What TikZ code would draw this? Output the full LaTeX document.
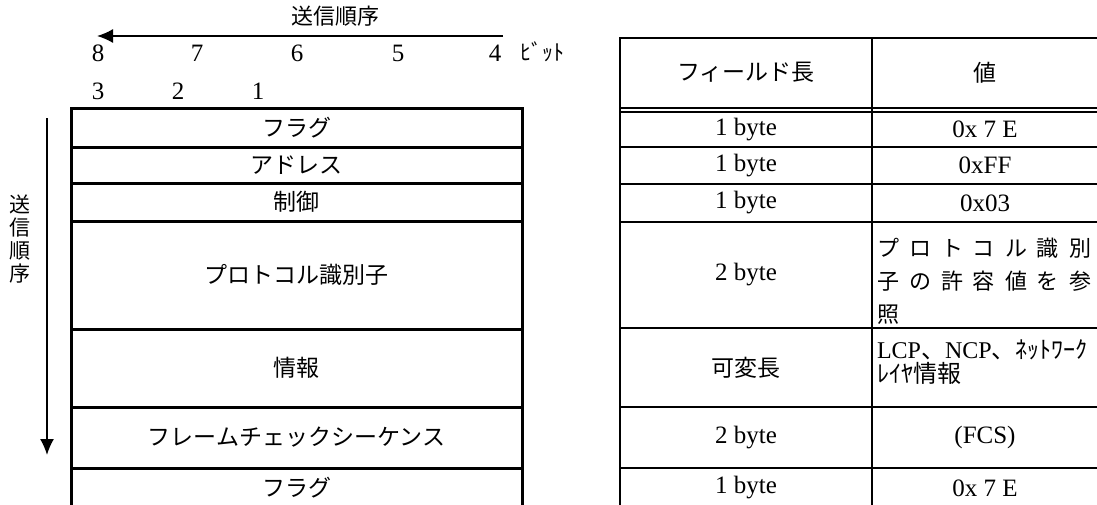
\documentclass[tikz,border=0pt]{standalone}
\usepackage{fontspec}
\setmainfont{Liberation Serif}
\newfontfamily\jp{Noto Sans CJK JP}
\usetikzlibrary{arrows.meta,positioning}

\newcommand\jpbig{\jp\fontsize{23}{27}\selectfont}
\newcommand\jpmid{\jp\fontsize{22}{33}\selectfont}
\newcommand\numsz{\rmfamily\fontsize{25}{29}\selectfont}
\newcommand\bitsz{\rmfamily\fontsize{25}{29}\selectfont}

\begin{document}
\begin{tikzpicture}[x=1pt,y=-1pt,inner sep=0pt,outer sep=0pt,
  field/.style={draw,line width=3pt,minimum width=451pt,font=\jpbig},
  cell/.style={draw,line width=2pt,font=\numsz},
  lencol/.style={cell,minimum width=252pt},
  valcol/.style={cell,minimum width=226pt},
  digit/.style={font=\bitsz},
  order/.style={line width=1.6pt,-{Latex[length=16pt,width=14pt]}}]
\useasboundingbox (0,0) rectangle (1097,504);
\clip (0,0) rectangle (1097,504);

%Frame Fields
\node at (296.5,127.5) [field,minimum height=39pt] (flag1) {フラグ};
\node at (296.5,165) [field,minimum height=36pt] (addr) {アドレス};
\node at (296.5,202) [field,minimum height=38pt] (ctrl) {制御};
\node at (296.5,275) [field,minimum height=108pt] (proto) {プロトコル識別子};
\node at (296.5,368) [field,minimum height=78pt] (info) {情報};
\node at (296.5,437.5) [field,minimum height=61pt] (fcs) {フレームチェックシーケンス};
\node at (296.5,488) [field,minimum height=40pt] (flag2) {フラグ};

%Table Cells
\node at (746,72.75) [lencol,minimum height=69.5pt,font=\jpbig] (hdlen) {フィールド長};
\node at (985,72.75) [valcol,minimum height=69.5pt,font=\jpbig] (hdval) {値};
\node at (746,129.25) [lencol,minimum height=35.5pt] (len1) {1 byte};
\node at (985,129.25) [valcol,minimum height=35.5pt] (val1) {0x 7 E};
\node at (746,165.5) [lencol,minimum height=37pt] (len2) {1 byte};
\node at (985,165.5) [valcol,minimum height=37pt] (val2) {0xFF};
\node at (746,203) [lencol,minimum height=38pt] (len3) {1 byte};
\node at (985,203) [valcol,minimum height=38pt] (val3) {0x03};
\node at (746,275) [lencol,minimum height=106pt] (len4) {2 byte};
\node at (985,275) [valcol,minimum height=106pt] (val4) {};
\node at (746,367.5) [lencol,minimum height=79pt,font=\jpbig] (len5) {可変長};
\node at (985,367.5) [valcol,minimum height=79pt] (val5) {};
\node at (746,437.5) [lencol,minimum height=61pt] (len6) {2 byte};
\node at (985,437.5) [valcol,minimum height=61pt] (val6) {(FCS)};
\node at (746,488) [lencol,minimum height=40pt] (len7) {1 byte};
\node at (985,488) [valcol,minimum height=40pt] (val7) {0x 7 E};

%Cell Texts
\node at (877,281) [anchor=west,align=left,font=\jpmid] (protoval) {%
\makebox[214pt][s]{プ\hfill ロ\hfill ト\hfill コ\hfill ル\hfill 識\hfill 別}\\
\makebox[214pt][s]{子\hfill の\hfill 許\hfill 容\hfill 値\hfill を\hfill 参}\\
照};
\node at (877,362) [anchor=west,align=left,font={\jp\fontsize{24}{24}\selectfont}] (infoval) {%
{\rmfamily LCP}、{\rmfamily NCP}、ﾈｯﾄﾜｰｸ\\ﾚｲﾔ情報};

%Bit Labels
\node at (98,53) [digit] (b8) {8};
\node at (197,53) [digit] (b7) {7};
\node at (297,53) [digit] (b6) {6};
\node at (398,53) [digit] (b5) {5};
\node at (495,53) [digit] (b4) {4};
\node at (98,91) [digit] (b3) {3};
\node at (178,91) [digit] (b2) {2};
\node at (258,91) [digit] (b1) {1};
\node at (520,52) [anchor=west,font={\jp\fontsize{22}{26}\selectfont}] (bitlbl) {ﾋﾞｯﾄ};

%Order Labels
\node at (335,16) [font={\jp\fontsize{22}{26}\selectfont}] (toplbl) {送信順序};
\node at (20,239) [align=center,font={\jp\fontsize{21}{23}\selectfont}] (sidelbl) {送\\信\\順\\序};

%Connections
\coordinate (hr) at (503,36);
\coordinate (hl) at (97,36);
\coordinate (vt) at (47,118);
\coordinate (vb) at (47,455);
\draw [order] (hr) -- (hl);
\draw [order] (vt) -- (vb);
\draw [line width=2pt] (hdlen.south west) -- (len1.north west);
\draw [line width=2pt] (hdlen.south east) -- (len1.north east);
\end{tikzpicture}
\end{document}
